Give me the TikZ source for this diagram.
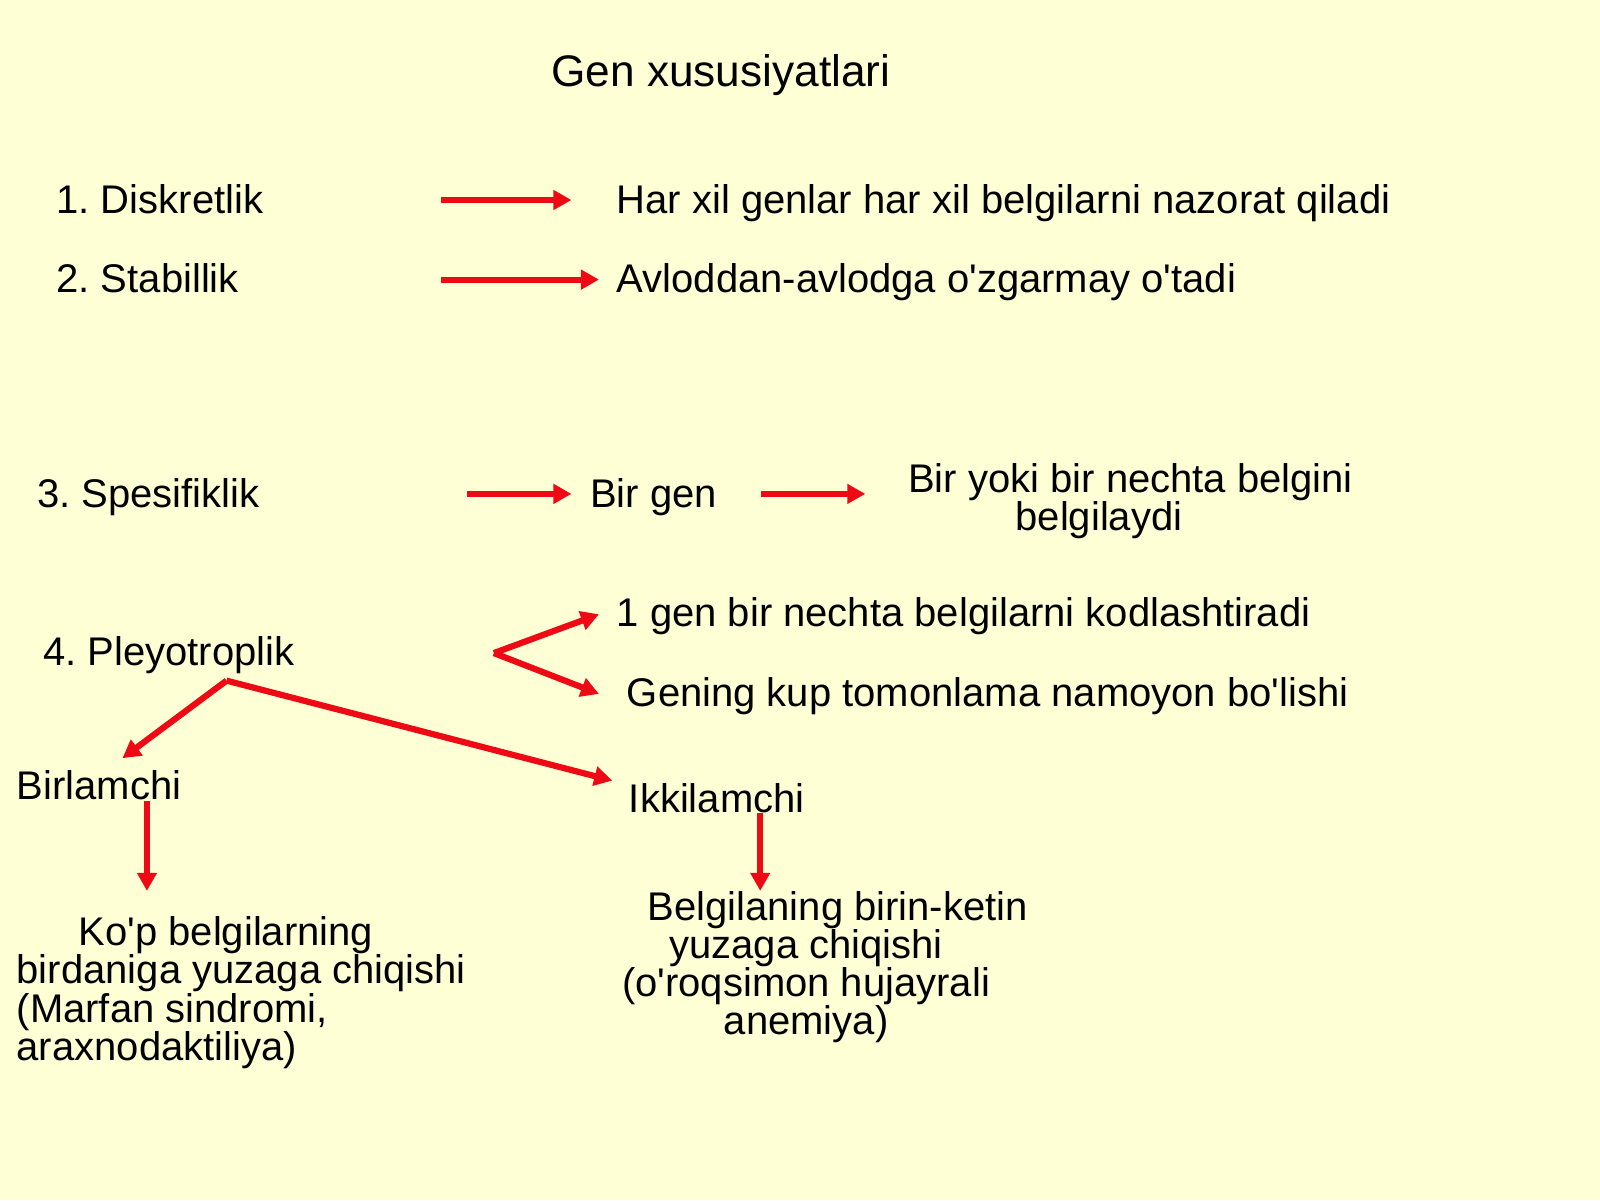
\documentclass[tikz,border=0pt]{standalone}
\usepackage{fontspec}
\setmainfont{Liberation Sans}
\usetikzlibrary{arrows.meta}
\definecolor{bg}{RGB}{255,255,214}
\definecolor{arr}{RGB}{238,10,20}
\newcommand{\apos}{\textquotesingle}
\begin{document}
\frenchspacing
\begin{tikzpicture}[x=0.5102pt,y=-0.5102pt,
  txt/.style={anchor=base west, inner sep=0pt, text=black, font=\fontsize{20pt}{19.1pt}\selectfont},
  ttl/.style={anchor=base west, inner sep=0pt, text=black, font=\fontsize{22.1pt}{24pt}\selectfont},
  arrowline/.style={draw=arr, line width=3.1pt, -{Triangle[length=9pt,width=9.5pt]}}]
\fill[bg] (0,0) rectangle (1568,1176);
\useasboundingbox (0,0) rectangle (1568,1176);

\node[ttl] (title) at (540,85) {Gen xususiyatlari};

\node[txt] (p1) at (55,209) {1. Diskretlik};
\node[txt] (d1) at (604,209) {Har xil genlar har xil belgilarni nazorat qiladi};
\node[txt] (p2) at (55,287) {2. Stabillik};
\node[txt] (d2) at (604,287) {Avloddan-avlodga o\apos zgarmay o\apos tadi};

\node[txt] (p3) at (36,497) {3. Spesifiklik};
\node[txt] (bg1) at (578,497) {Bir gen};
\node[txt, anchor=base, align=center] (d3) at (1108,520)
  {Bir yoki bir nechta belgini\\belgilaydi\rule{31.6pt}{0pt}};

\node[txt] (p4) at (42,652) {4. Pleyotroplik};
\node[txt] (d4a) at (604,614) {1 gen bir nechta belgilarni kodlashtiradi};
\node[txt] (d4b) at (614,692) {Gening kup tomonlama namoyon bo\apos lishi};

\node[txt] (bir) at (16,783) {Birlamchi};
\node[txt] (ikki) at (616,796) {Ikkilamchi};

\node[txt, align=left] (birtxt) at (16,1039)
  {\rule{31pt}{0pt}Ko\apos p belgilarning\\birdaniga yuzaga chiqishi\\(Marfan sindromi,\\araxnodaktiliya)};
\node[txt, anchor=base, align=center] (ikkitxt) at (790,1014)
  {\rule{31.6pt}{0pt}Belgilaning birin-ketin\\yuzaga chiqishi\\(o\apos roqsimon hujayrali\\anemiya)};

% connector end points
\coordinate (a1s) at (432,196); \coordinate (a1e) at (560,196);
\coordinate (a2s) at (432,274); \coordinate (a2e) at (587,274);
\coordinate (a3s) at (458,484); \coordinate (a3e) at (560,484);
\coordinate (a4s) at (746,484); \coordinate (a4e) at (848,484);
\coordinate (v4) at (484,640);
\coordinate (a5e) at (587,602); \coordinate (a6e) at (587,680);
\coordinate (v5) at (222,667);
\coordinate (a7e) at (120,743); \coordinate (a8e) at (600,765);
\coordinate (a9s) at (144,785); \coordinate (a9e) at (144,873);
\coordinate (a10s) at (745,797); \coordinate (a10e) at (745,873);

\draw[arrowline] (a1s) -- (a1e);
\draw[arrowline] (a2s) -- (a2e);
\draw[arrowline] (a3s) -- (a3e);
\draw[arrowline] (a4s) -- (a4e);
\draw[arrowline] (v4) -- (a5e);
\draw[arrowline] (v4) -- (a6e);
\draw[arrowline] (v5) -- (a7e);
\draw[arrowline] (v5) -- (a8e);
\draw[arrowline] (a9s) -- (a9e);
\draw[arrowline] (a10s) -- (a10e);
\end{tikzpicture}
\end{document}
